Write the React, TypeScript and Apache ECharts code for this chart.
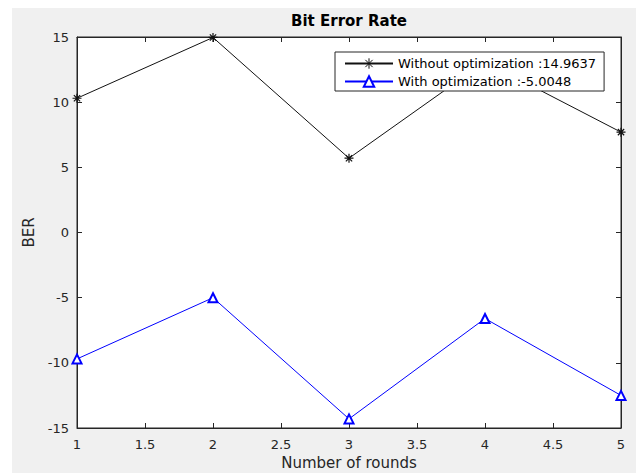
import React, { useEffect, useRef } from "react";
import * as echarts from "echarts";

const rounds = [1, 2, 3, 4, 5];
const withoutOpt = [10.3, 14.9637, 5.7, 13.1, 7.7];
const withOpt = [-9.7, -5.0048, -14.3, -6.6, -12.5];
const seriesNames = ["Without optimization :14.9637", "With optimization :-5.0048"];
const titleText = "Bit Error Rate";
const xName = "Number of rounds";
const yName = "BER";

const FONT = "'DejaVu Sans', 'Liberation Sans', Arial, sans-serif";
const AXIS = "#262626";
const STAR = "path://M0,-5L0,5M-5,0L5,0M-3.5,-3.5L3.5,3.5M-3.5,3.5L3.5,-3.5";

export default function App() {
  const ref = useRef<HTMLDivElement>(null);
  useEffect(() => {
    const chart = echarts.init(ref.current!, null, { renderer: "svg" });
    const pair = (xs: number[], ys: number[]) => xs.map((x, i) => [x, ys[i]]);
    const gridLeft = 77, gridRight = 15, gridTop = 37, gridBottom = 45;
    chart.setOption({
      animation: false,
      backgroundColor: "#ffffff",
      textStyle: { fontFamily: FONT },
      graphic: [
        {
          type: "rect",
          z: -10,
          silent: true,
          shape: { x: 12, y: 8, width: 636, height: 473 },
          style: { fill: "#f0f0f0" },
        },
      ],
      title: {
        text: titleText,
        left: gridLeft + (636 - gridLeft - gridRight) / 2,
        textAlign: "center",
        top: 13,
        padding: 0,
        textStyle: { fontFamily: FONT, fontSize: 15, fontWeight: "bold", color: "#000" },
      },
      grid: {
        left: gridLeft,
        right: gridRight,
        top: gridTop,
        bottom: gridBottom,
        outerBoundsMode: "none",
        containLabel: false,
        show: true,
        backgroundColor: "#ffffff",
        borderColor: AXIS,
        borderWidth: 1,
      },
      legend: {
        orient: "vertical",
        left: 335,
        top: 52,
        backgroundColor: "#ffffff",
        borderColor: AXIS,
        borderWidth: 1,
        borderRadius: 0,
        padding: [5, 8, 3, 9],
        itemGap: 5,
        itemWidth: 48,
        itemHeight: 13,
        itemStyle: { borderWidth: 1 },
        textStyle: { fontFamily: FONT, fontSize: 13, color: "#000" },
        data: seriesNames,
      },
      xAxis: [
        {
          type: "value",
          min: 1,
          max: 5,
          interval: 0.5,
          name: xName,
          nameLocation: "middle",
          nameGap: 24,
          nameTextStyle: { fontFamily: FONT, fontSize: 15, color: AXIS },
          axisLine: { show: true, onZero: false, lineStyle: { color: AXIS } },
          axisTick: { show: true, inside: true, length: 5, lineStyle: { color: AXIS } },
          axisLabel: { fontFamily: FONT, fontSize: 13, color: AXIS, margin: 10 },
          splitLine: { show: false },
        },
        {
          type: "value",
          min: 1,
          max: 5,
          interval: 0.5,
          position: "top",
          axisLine: { show: true, onZero: false, lineStyle: { color: AXIS } },
          axisTick: { show: true, inside: true, length: 5, lineStyle: { color: AXIS } },
          axisLabel: { show: false },
          splitLine: { show: false },
        },
      ],
      yAxis: [
        {
          type: "value",
          min: -15,
          max: 15,
          interval: 5,
          name: yName,
          nameLocation: "middle",
          nameGap: 39,
          nameTextStyle: { fontFamily: FONT, fontSize: 15, color: AXIS },
          axisLine: { show: true, onZero: false, lineStyle: { color: AXIS } },
          axisTick: { show: true, inside: true, length: 5, lineStyle: { color: AXIS } },
          axisLabel: { fontFamily: FONT, fontSize: 13, color: AXIS, margin: 8 },
          splitLine: { show: false },
        },
        {
          type: "value",
          min: -15,
          max: 15,
          interval: 5,
          position: "right",
          axisLine: { show: true, onZero: false, lineStyle: { color: AXIS } },
          axisTick: { show: true, inside: true, length: 5, lineStyle: { color: AXIS } },
          axisLabel: { show: false },
          splitLine: { show: false },
        },
      ],
      series: [
        {
          name: seriesNames[0],
          type: "line",
          data: pair(rounds, withoutOpt),
          symbol: STAR,
          symbolSize: 9,
          lineStyle: { color: "#111", width: 1 },
          itemStyle: { color: "#111", borderColor: "#111", borderWidth: 1.2 },
        },
        {
          name: seriesNames[1],
          type: "line",
          data: pair(rounds, withOpt),
          symbol: "emptyTriangle",
          symbolSize: 9,
          lineStyle: { color: "#0000ff", width: 1 },
          itemStyle: { color: "#0000ff", borderColor: "#0000ff", borderWidth: 1.2 },
        },
      ],
    });
    return () => chart.dispose();
  }, []);
  return (
    <div
      ref={ref}
      style={{ position: "fixed", left: 0, top: 0, width: 636, height: 473 }}
    />
  );
}
